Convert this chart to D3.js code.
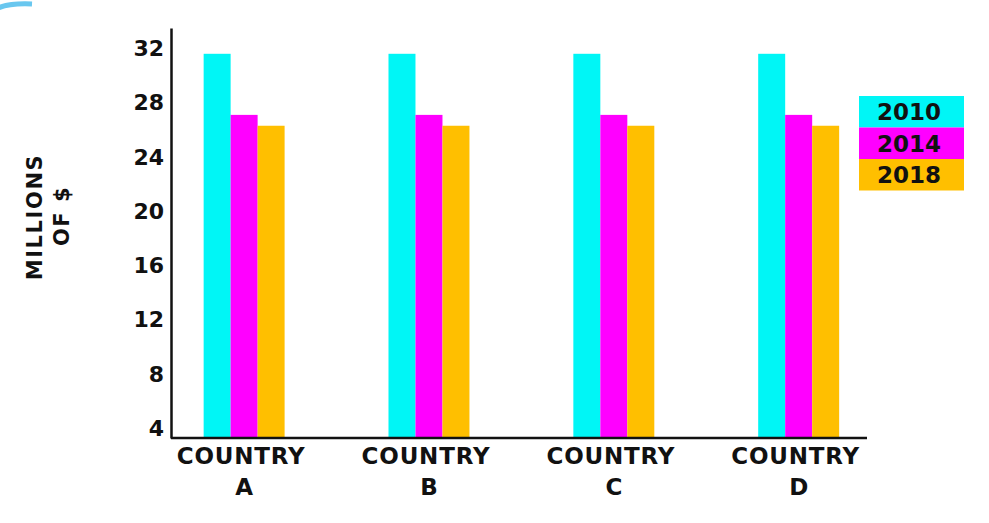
<!DOCTYPE html>
<html>
<head>
<meta charset="utf-8">
<script src="https://cdn.jsdelivr.net/npm/d3@7"></script>
<style>
  html, body { margin: 0; padding: 0; background: #ffffff; }
  svg { display: block; }
  text { font-family: "DejaVu Sans", sans-serif; font-weight: bold; fill: #111111; }
</style>
</head>
<body>
<svg id="chart" width="989" height="523"></svg>
<script>
// ---- data ----
const countries = ["A", "B", "C", "D"];
const years = ["2010", "2014", "2018"];
const values2010 = [31.6, 31.6, 31.6, 31.6];
const values2014 = [27.1, 27.1, 27.1, 27.1];
const values2018 = [26.3, 26.3, 26.3, 26.3];
const yTicks = [4, 8, 12, 16, 20, 24, 28, 32];
const colors = ["#00f6f6", "#ff00ff", "#ffbf00"];

const seriesValues = [values2010, values2014, values2018];
const rows = countries.map((c, i) => ({
  country: c,
  vals: years.map((y, j) => ({ year: y, value: seriesValues[j][i] }))
}));

const svg = d3.select("#chart");

// faint logo remnant, top-left
svg.append("path")
  .attr("d", "M-2,8 Q10,3 32,4")
  .attr("fill", "none")
  .attr("stroke", "#37b4ea")
  .attr("stroke-width", 5)
  .attr("opacity", 0.75);

// ---- scales ----
const y = d3.scaleLinear().domain([3.3, 33.5]).range([438, 28]);
const pi = 0.562;
const x0 = d3.scaleBand().domain(countries).range([151.7, 891.1])
  .paddingInner(pi).paddingOuter(pi / 2);
const x1 = d3.scaleBand().domain(years).range([0, x0.bandwidth()]).padding(0);
const color = d3.scaleOrdinal().domain(years).range(colors);

// ---- bars ----
svg.append("g").selectAll("g")
  .data(rows).join("g")
  .attr("transform", d => `translate(${x0(d.country)},0)`)
  .selectAll("rect")
  .data(d => d.vals).join("rect")
  .attr("x", d => x1(d.year))
  .attr("y", d => y(d.value))
  .attr("width", x1.bandwidth())
  .attr("height", d => y(y.domain()[0]) - y(d.value))
  .attr("fill", d => color(d.year));

// ---- y axis ----
const yAxis = d3.axisLeft(y).tickValues(yTicks).tickSize(0).tickPadding(7);
const gy = svg.append("g").attr("transform", "translate(171,0)").call(yAxis);
gy.select(".domain").attr("stroke", "#111").attr("stroke-width", 2.5);
gy.selectAll("text")
  .style("font-family", "DejaVu Sans, sans-serif")
  .style("font-weight", "bold")
  .style("font-size", "22px")
  .attr("fill", "#111");

// ---- x axis ----
const gx = svg.append("g").attr("transform", "translate(0,438)");
gx.append("line")
  .attr("x1", 171).attr("x2", 867).attr("y1", 0).attr("y2", 0)
  .attr("stroke", "#111").attr("stroke-width", 2.5);
const xl = gx.selectAll("g.lab").data(countries).join("g")
  .attr("class", "lab")
  .attr("transform", d => `translate(${x0(d) + x0.bandwidth() / 2},0)`);
xl.append("text")
  .attr("text-anchor", "middle")
  .attr("x", -3)
  .attr("y", 26)
  .style("font-size", "23px")
  .style("letter-spacing", "0.8px")
  .text("COUNTRY");
xl.append("text")
  .attr("text-anchor", "middle")
  .attr("y", 57)
  .style("font-size", "23px")
  .text(d => d);

// ---- y axis title ----
svg.append("text")
  .attr("transform", "translate(42,217) rotate(-90)")
  .attr("text-anchor", "middle")
  .style("font-size", "21px")
  .style("letter-spacing", "1.6px")
  .text("MILLIONS");
svg.append("text")
  .attr("transform", "translate(69,216) rotate(-90)")
  .attr("text-anchor", "middle")
  .style("font-size", "21px")
  .style("letter-spacing", "1.5px")
  .text("OF $");

// ---- legend ----
const lg = svg.append("g").attr("transform", "translate(859,96)");
const li = lg.selectAll("g").data(years).join("g")
  .attr("transform", (d, i) => `translate(0,${i * 31.5})`);
li.append("rect")
  .attr("width", 105).attr("height", 31.5)
  .attr("fill", d => color(d));
li.append("text")
  .attr("x", 50).attr("y", 24)
  .attr("text-anchor", "middle")
  .style("font-size", "23px")
  .text(d => d);
</script>
</body>
</html>
